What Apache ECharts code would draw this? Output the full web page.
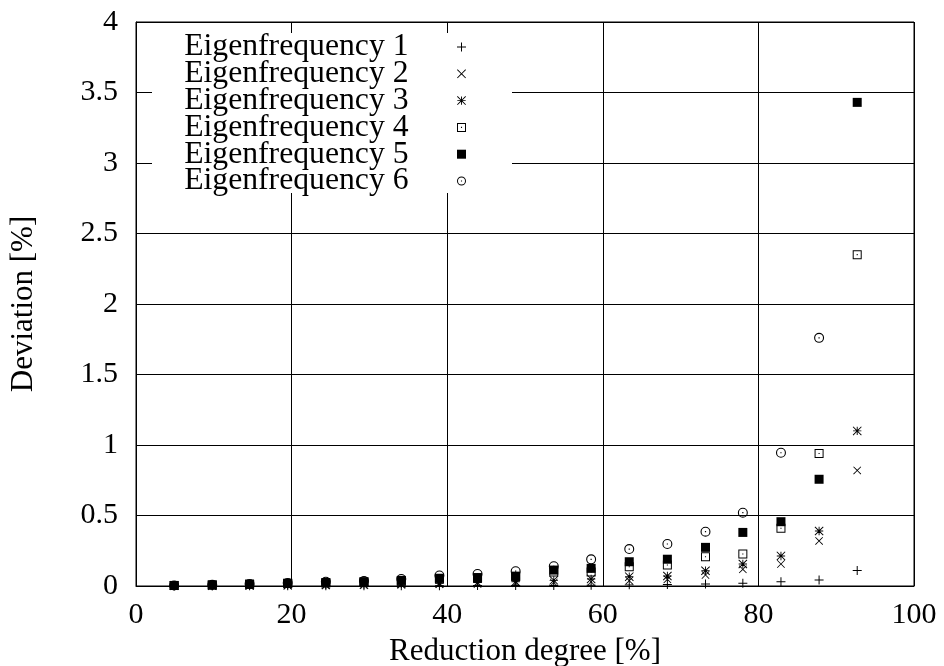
<!DOCTYPE html>
<html>
<head>
<meta charset="utf-8">
<script src="https://cdn.jsdelivr.net/npm/echarts@6/dist/echarts.min.js"></script>
<style>
html,body{margin:0;padding:0;background:#fff;}
#chart{width:944px;height:666px;}
</style>
</head>
<body>
<div id="chart"></div>
<script>
// ---- data ----
const reduction = [4.9, 9.8, 14.6, 19.5, 24.4, 29.3, 34.1, 39.0, 43.9, 48.8, 53.7, 58.5, 63.4, 68.3, 73.2, 78.0, 82.9, 87.8, 92.7];
const eig1 = [0.000, 0.000, 0.001, 0.001, 0.001, 0.002, 0.002, 0.002, 0.003, 0.003, 0.004, 0.005, 0.008, 0.010, 0.014, 0.020, 0.030, 0.043, 0.11];
const eig2 = [0.001, 0.001, 0.002, 0.003, 0.004, 0.005, 0.008, 0.012, 0.015, 0.020, 0.025, 0.030, 0.038, 0.047, 0.078, 0.118, 0.156, 0.32, 0.82];
const eig3 = [0.001, 0.002, 0.004, 0.006, 0.008, 0.010, 0.015, 0.020, 0.025, 0.030, 0.040, 0.050, 0.066, 0.071, 0.108, 0.156, 0.213, 0.39, 1.10];
const eig4 = [0.003, 0.007, 0.012, 0.018, 0.022, 0.028, 0.035, 0.050, 0.055, 0.065, 0.100, 0.100, 0.137, 0.149, 0.208, 0.227, 0.41, 0.94, 2.35];
const eig5 = [0.004, 0.008, 0.013, 0.020, 0.025, 0.030, 0.040, 0.055, 0.060, 0.070, 0.113, 0.125, 0.172, 0.190, 0.274, 0.38, 0.456, 0.757, 3.43];
const eig6 = [0.004, 0.008, 0.015, 0.022, 0.030, 0.035, 0.050, 0.075, 0.085, 0.105, 0.140, 0.189, 0.262, 0.298, 0.385, 0.52, 0.945, 1.76, null];
const seriesNames = ['Eigenfrequency 1', 'Eigenfrequency 2', 'Eigenfrequency 3', 'Eigenfrequency 4', 'Eigenfrequency 5', 'Eigenfrequency 6'];
const xTicks = [0, 20, 40, 60, 80, 100];
const yTicks = [0, 0.5, 1, 1.5, 2, 2.5, 3, 3.5, 4];

// ---- marker shapes (gnuplot-like point types) ----
function armPoly(L, t, angDeg) {
  const a = angDeg * Math.PI / 180, c = Math.cos(a), s = Math.sin(a);
  const pts = [[-t,-L],[t,-L],[t,-t],[L,-t],[L,t],[t,t],[t,L],[-t,L],[-t,t],[-L,t],[-L,-t],[-t,-t]];
  return pts.map((p, i) => {
    const x = 50 + p[0]*c - p[1]*s, y = 50 + p[0]*s + p[1]*c;
    return (i === 0 ? 'M' : 'L') + x.toFixed(2) + ',' + y.toFixed(2);
  }).join('') + 'Z';
}
const T = 5.5;
const symPlus = 'path://' + armPoly(50, T, 0);
const symCross = 'path://' + armPoly(70.7, T, 45);
const symStar = 'path://' + armPoly(50, T, 0) + armPoly(70.7, T, 45);
const symBoxDot = 'path://M0,0H100V100H0Z M11,11V89H89V11Z M44,44H56V56H44Z';
const symBoxFill = 'path://M0,0H100V100H0Z';
const symCircDot = 'path://M50,0A50,50 0 1,1 50,100A50,50 0 1,1 50,0Z M50,11A39,39 0 1,0 50,89A39,39 0 1,0 50,11Z M44,44H56V56H44Z';
const symbols = [symPlus, symCross, symStar, symBoxDot, symBoxFill, symCircDot];
const sizes = [9, 8, 9, 9, 9, 10];

const allValues = [eig1, eig2, eig3, eig4, eig5, eig6];
const FONT = '"Liberation Serif", "Times New Roman", serif';

const series = allValues.map((vals, k) => ({
  name: seriesNames[k],
  type: 'scatter',
  symbol: symbols[k],
  symbolSize: sizes[k],
  itemStyle: { color: '#000', opacity: 1 },
  emphasis: { disabled: true },
  data: reduction.map((x, i) => vals[i] == null ? null : [x, vals[i]]).filter(d => d)
}));

const chart = echarts.init(document.getElementById('chart'), null, { renderer: 'canvas' });
chart.setOption({
  backgroundColor: '#fff',
  animation: false,
  textStyle: { fontFamily: FONT },
  grid: {
    left: 136, right: 30, top: 22, bottom: 80,
    containLabel: false, outerBoundsMode: 'none',
    show: true, borderColor: '#000', borderWidth: 1, backgroundColor: 'transparent'
  },
  graphic: [{
    type: 'rect',
    z: 1,
    silent: true,
    shape: { x: 152, y: 33, width: 360, height: 160 },
    style: { fill: '#fff' }
  }],
  legend: {
    orient: 'vertical',
    right: 478,
    top: 31,
    align: 'right',
    itemWidth: 96,
    itemHeight: 9,
    itemGap: -5.2,
    padding: 0,
    backgroundColor: 'transparent',
    selectedMode: false,
    textStyle: { fontFamily: FONT, fontSize: 31.7, color: '#000' },
    data: seriesNames
  },
  xAxis: {
    type: 'value',
    min: xTicks[0], max: xTicks[xTicks.length - 1], interval: 20,
    name: 'Reduction degree [%]',
    nameLocation: 'middle',
    nameGap: 50,
    nameTextStyle: { fontFamily: FONT, fontSize: 31, color: '#000' },
    axisLine: { show: true, lineStyle: { color: '#000', width: 1 } },
    axisTick: { show: false },
    axisLabel: { fontFamily: FONT, fontSize: 30, color: '#000', margin: 14 },
    splitLine: { show: true, lineStyle: { color: '#000', width: 1 } }
  },
  yAxis: {
    type: 'value',
    min: yTicks[0], max: yTicks[yTicks.length - 1], interval: 0.5,
    name: 'Deviation [%]',
    nameLocation: 'middle',
    nameGap: 97,
    nameTextStyle: { fontFamily: FONT, fontSize: 31, color: '#000' },
    axisLine: { show: true, lineStyle: { color: '#000', width: 1 } },
    axisTick: { show: false },
    axisLabel: { fontFamily: FONT, fontSize: 30, color: '#000', margin: 18 },
    splitLine: { show: true, lineStyle: { color: '#000', width: 1 } }
  },
  series: series
});
</script>
</body>
</html>
